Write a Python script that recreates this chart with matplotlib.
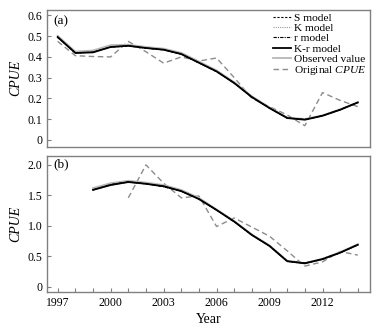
import numpy as np
import matplotlib
matplotlib.use('Agg')
import matplotlib.pyplot as plt

plt.rcParams['font.family'] = ['Liberation Serif', 'DejaVu Serif']
plt.rcParams['mathtext.fontset'] = 'custom'
plt.rcParams['mathtext.rm'] = 'Liberation Serif'
plt.rcParams['mathtext.it'] = 'Liberation Serif:italic'

# (a) 1997-2014
years_a = list(range(1997, 2015))
a_s = [0.494, 0.420, 0.423, 0.447, 0.453, 0.443, 0.434, 0.413, 0.371, 0.329, 0.273, 0.206, 0.153, 0.106, 0.098, 0.117, 0.146, 0.181]
a_k = [0.495, 0.420, 0.422, 0.448, 0.454, 0.442, 0.435, 0.414, 0.372, 0.330, 0.274, 0.207, 0.154, 0.105, 0.097, 0.116, 0.145, 0.180]
a_r = [0.495, 0.419, 0.423, 0.448, 0.453, 0.443, 0.434, 0.414, 0.371, 0.330, 0.274, 0.206, 0.153, 0.105, 0.098, 0.116, 0.145, 0.181]
a_kr = [0.496, 0.419, 0.422, 0.448, 0.454, 0.443, 0.435, 0.414, 0.372, 0.330, 0.274, 0.206, 0.153, 0.105, 0.097, 0.116, 0.145, 0.180]
a_obs = [0.502, 0.426, 0.431, 0.457, 0.459, 0.448, 0.440, 0.420, 0.378, 0.335, 0.278, 0.210, 0.156, 0.108, 0.100, 0.118, 0.147, 0.182]
a_orig = [0.475, 0.406, 0.402, 0.400, 0.475, 0.425, 0.370, 0.400, 0.380, 0.395, 0.300, 0.200, 0.160, 0.120, 0.068, 0.228, 0.190, 0.160]

# (b) model 1999-2014, original 2001-2014
years_b = list(range(1999, 2015))
b_s = [1.59, 1.67, 1.72, 1.69, 1.65, 1.57, 1.44, 1.26, 1.07, 0.85, 0.67, 0.42, 0.39, 0.46, 0.56, 0.69]
b_k = [1.60, 1.67, 1.71, 1.69, 1.65, 1.57, 1.44, 1.26, 1.07, 0.85, 0.67, 0.42, 0.38, 0.45, 0.56, 0.69]
b_r = [1.59, 1.68, 1.72, 1.69, 1.64, 1.57, 1.44, 1.26, 1.07, 0.85, 0.67, 0.42, 0.39, 0.45, 0.56, 0.69]
b_kr = [1.59, 1.67, 1.72, 1.69, 1.65, 1.57, 1.44, 1.26, 1.07, 0.85, 0.67, 0.42, 0.385, 0.455, 0.56, 0.69]
b_obs = [1.62, 1.70, 1.74, 1.71, 1.67, 1.59, 1.46, 1.27, 1.08, 0.86, 0.68, 0.43, 0.39, 0.46, 0.57, 0.70]
years_b_orig = list(range(2001, 2015))
b_orig = [1.46, 2.00, 1.70, 1.46, 1.49, 0.99, 1.13, 0.98, 0.83, 0.59, 0.34, 0.41, 0.58, 0.52]

spine_c = '#808080'

fig = plt.figure(figsize=(3.86, 3.3), dpi=100)
ax1 = fig.add_axes([0.122, 0.555, 0.837, 0.415])
ax2 = fig.add_axes([0.122, 0.116, 0.837, 0.412])


def draw(ax, yrs, s, k, r, kr, obs, oyrs, orig):
    ax.plot(yrs, obs, color='#b8b8b8', lw=1.3, label='Observed value', zorder=2)
    ax.plot(oyrs, orig, color='#8c8c8c', lw=1.0, ls=(0, (4, 2.5)), label='Original $\\it{CPUE}$', zorder=1)
    ax.plot(yrs, s, color='black', lw=0.8, ls=(0, (2, 1.5)), label='S model', zorder=3)
    ax.plot(yrs, k, color='#999999', lw=0.8, ls=(0, (1, 1)), label='K model', zorder=3)
    ax.plot(yrs, r, color='black', lw=0.8, ls=(0, (3, 1, 1, 1)), label='r model', zorder=3)
    ax.plot(yrs, kr, color='black', lw=1.3, label='K-r model', zorder=4)
    for sp in ax.spines.values():
        sp.set_color(spine_c)
        sp.set_linewidth(1.0)
    ax.set_xlim(1996.4, 2014.7)
    ax.tick_params(direction='in', length=3, width=0.8, color=spine_c, labelsize=8.5)
    ax.set_ylabel('CPUE', fontstyle='italic', fontsize=10, labelpad=4)


draw(ax1, years_a, a_s, a_k, a_r, a_kr, a_obs, years_a, a_orig)
draw(ax2, years_b, b_s, b_k, b_r, b_kr, b_obs, years_b_orig, b_orig)

ax1.set_ylim(-0.034, 0.627)
ax1.set_yticks([0, 0.1, 0.2, 0.3, 0.4, 0.5, 0.6])
ax1.set_yticklabels(['0', '0.1', '0.2', '0.3', '0.4', '0.5', '0.6'])
ax1.set_xticks([])

ax2.set_ylim(-0.08, 2.15)
ax2.set_yticks([0, 0.5, 1.0, 1.5, 2.0])
ax2.set_yticklabels(['0', '0.5', '1.0', '1.5', '2.0'])
ax2.set_xticks(list(range(1997, 2015)))
ax2.set_xticklabels([str(y) if (y - 1997) % 3 == 0 else '' for y in range(1997, 2015)])
ax2.set_xlabel('Year', fontsize=10, labelpad=3)

ax1.text(0.02, 0.96, '(a)', transform=ax1.transAxes, fontsize=9.5, va='top')
ax2.text(0.02, 0.985, '(b)', transform=ax2.transAxes, fontsize=9.5, va='top')

h, l = ax1.get_legend_handles_labels()
order = [2, 3, 4, 5, 0, 1]
ax1.legend([h[i] for i in order], [l[i] for i in order], loc='upper right',
           bbox_to_anchor=(1.012, 1.035), frameon=False, fontsize=8.2,
           handlelength=1.6, handletextpad=0.25, labelspacing=0.02,
           borderpad=0.2)

fig.savefig('out.png', dpi=100)
